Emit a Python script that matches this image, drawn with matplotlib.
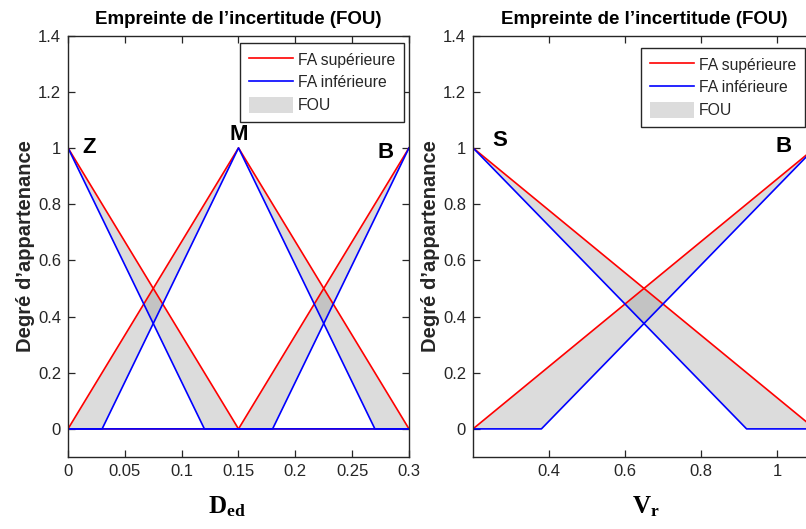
import numpy as np
import matplotlib
matplotlib.use("Agg")
import matplotlib.pyplot as plt
from matplotlib.patches import Patch
from matplotlib.lines import Line2D

plt.rcParams['font.family'] = ['Liberation Sans', 'DejaVu Sans']
plt.rcParams['mathtext.fontset'] = 'custom'
plt.rcParams['mathtext.bf'] = 'Liberation Serif:bold'
plt.rcParams['mathtext.rm'] = 'Liberation Serif:bold'

# ---------------- data ----------------
# Left panel: D_ed
ded_z_up_x = [0, 0.15, 0.3];        ded_z_up_y = [1, 0, 0]
ded_z_lo_x = [0, 0.12, 0.3];        ded_z_lo_y = [1, 0, 0]
ded_m_up_x = [0, 0.15, 0.3];        ded_m_up_y = [0, 1, 0]
ded_m_lo_x = [0, 0.03, 0.15, 0.27, 0.3]; ded_m_lo_y = [0, 0, 1, 0, 0]
ded_b_up_x = [0, 0.15, 0.3];        ded_b_up_y = [0, 0, 1]
ded_b_lo_x = [0, 0.18, 0.3];        ded_b_lo_y = [0, 0, 1]
ded_labels = ['Z', 'M', 'B']
ded_label_pos = [(0.0185, 1.0), (0.15, 1.048), (0.279, 0.982)]
ded_xticks = [0, 0.05, 0.1, 0.15, 0.2, 0.25, 0.3]
ded_xtick_labels = ['0', '0.05', '0.1', '0.15', '0.2', '0.25', '0.3']

# Right panel: V_r
vr_s_up_x = [0.2, 1.1];             vr_s_up_y = [1, 0]
vr_s_lo_x = [0.2, 0.92, 1.1];       vr_s_lo_y = [1, 0, 0]
vr_b_up_x = [0.2, 1.1];             vr_b_up_y = [0, 1]
vr_b_lo_x = [0.2, 0.38, 1.1];       vr_b_lo_y = [0, 0, 1]
vr_labels = ['S', 'B']
vr_label_pos = [(0.271, 1.025), (1.017, 1.005)]
vr_xticks = [0.4, 0.6, 0.8, 1.0]
vr_xtick_labels = ['0.4', '0.6', '0.8', '1']

yticks = [0, 0.2, 0.4, 0.6, 0.8, 1, 1.2, 1.4]
ytick_labels = ['0', '0.2', '0.4', '0.6', '0.8', '1', '1.2', '1.4']

title = 'Empreinte de l\u2019incertitude (FOU)'
ylabel = 'Degr\u00e9 d\u2019appartenance'
legend_labels = ['FA sup\u00e9rieure', 'FA inf\u00e9rieure', 'FOU']

RED = '#ff0000'
BLUE = '#0000ff'
FILL = (0.5, 0.5, 0.5)
FILL_ALPHA = 0.27
AXC = '#262626'

W, H = 806, 529
fig = plt.figure(figsize=(W / 100, H / 100), dpi=100)

AX_TOP, AX_BOT = 35.5, 457

def px_axes(left, right, top, bottom):
    return fig.add_axes([left / W, 1 - bottom / H, (right - left) / W, (bottom - top) / H])

axL = px_axes(68, 409, AX_TOP, AX_BOT)
axR = px_axes(473, 815, AX_TOP, AX_BOT)

def style(ax):
    for s in ax.spines.values():
        s.set_color(AXC)
        s.set_linewidth(1.0)
    ax.tick_params(direction='in', length=5, width=0.9, color=AXC, labelcolor=AXC,
                   labelsize=12, top=True, right=True, pad=5)
    ax.set_ylim(-0.1, 1.4)
    ax.set_yticks(yticks)
    ax.set_yticklabels(ytick_labels)
    ax.set_title(title, fontsize=13.5, fontweight='bold', pad=8, color='black')
    ax.set_ylabel(ylabel, fontsize=14.5, fontweight='bold', labelpad=2, color=AXC)

def fou(ax, ux, uy, lx, ly):
    px = list(ux) + list(lx)[::-1]
    py = list(uy) + list(ly)[::-1]
    ax.fill(px, py, color=FILL, alpha=FILL_ALPHA, lw=0)

# Left panel
fou(axL, ded_z_up_x, ded_z_up_y, ded_z_lo_x, ded_z_lo_y)
fou(axL, ded_m_up_x, ded_m_up_y, ded_m_lo_x, ded_m_lo_y)
fou(axL, ded_b_up_x, ded_b_up_y, ded_b_lo_x, ded_b_lo_y)
for x, y in [(ded_z_up_x, ded_z_up_y), (ded_m_up_x, ded_m_up_y), (ded_b_up_x, ded_b_up_y)]:
    axL.plot(x, y, color=RED, lw=1.2)
for x, y in [(ded_z_lo_x, ded_z_lo_y), (ded_m_lo_x, ded_m_lo_y), (ded_b_lo_x, ded_b_lo_y)]:
    axL.plot(x, y, color=BLUE, lw=1.2)
for lab, (x, y) in zip(ded_labels, ded_label_pos):
    axL.text(x, y, lab, fontsize=16, fontweight='bold', ha='center', va='center')
axL.set_xlim(0, 0.3)
axL.set_xticks(ded_xticks)
axL.set_xticklabels(ded_xtick_labels)
axL.set_xlabel(r'$\mathbf{D_{ed}}$', fontsize=18)
style(axL)

# Right panel
fou(axR, vr_s_up_x, vr_s_up_y, vr_s_lo_x, vr_s_lo_y)
fou(axR, vr_b_up_x, vr_b_up_y, vr_b_lo_x, vr_b_lo_y)
for x, y in [(vr_s_up_x, vr_s_up_y), (vr_b_up_x, vr_b_up_y)]:
    axR.plot(x, y, color=RED, lw=1.2)
for x, y in [(vr_s_lo_x, vr_s_lo_y), (vr_b_lo_x, vr_b_lo_y)]:
    axR.plot(x, y, color=BLUE, lw=1.2)
for lab, (x, y) in zip(vr_labels, vr_label_pos):
    axR.text(x, y, lab, fontsize=16, fontweight='bold', ha='center', va='center')
axR.set_xlim(0.2, 1.1)
axR.set_xticks(vr_xticks)
axR.set_xticklabels(vr_xtick_labels)
axR.set_xlabel(r'$\mathbf{V_{r}}$', fontsize=18)
style(axR)

# x-label placement (axes fraction coordinates, label top edge)
ylab_frac = -(494 - AX_BOT) / (AX_BOT - AX_TOP)
axL.xaxis.set_label_coords((227 - 68) / 341, ylab_frac)
axR.xaxis.set_label_coords((646 - 473) / 342, ylab_frac)

handles = [Line2D([], [], color=RED, lw=1.2),
           Line2D([], [], color=BLUE, lw=1.2),
           Patch(facecolor=FILL, alpha=FILL_ALPHA, lw=0)]

def add_legend(ax, x1, y0):
    pos = ax.get_position()
    bx = (x1 - pos.x0 * W) / (pos.width * W)
    by = 1 - (y0 - (H - pos.y1 * H)) / (pos.height * H)
    leg = ax.legend(handles, legend_labels, loc='upper right', bbox_to_anchor=(bx, by),
                    fontsize=11.3, frameon=True, fancybox=False, framealpha=1,
                    edgecolor=AXC, borderaxespad=0, handlelength=2.8, handleheight=1.1,
                    labelspacing=0.45, handletextpad=0.35, borderpad=0.55)
    leg.get_frame().set_linewidth(1.0)
    for t in leg.get_texts():
        t.set_color(AXC)

add_legend(axL, 404, 43)
add_legend(axR, 805, 48)

fig.savefig('out.png', dpi=100)
